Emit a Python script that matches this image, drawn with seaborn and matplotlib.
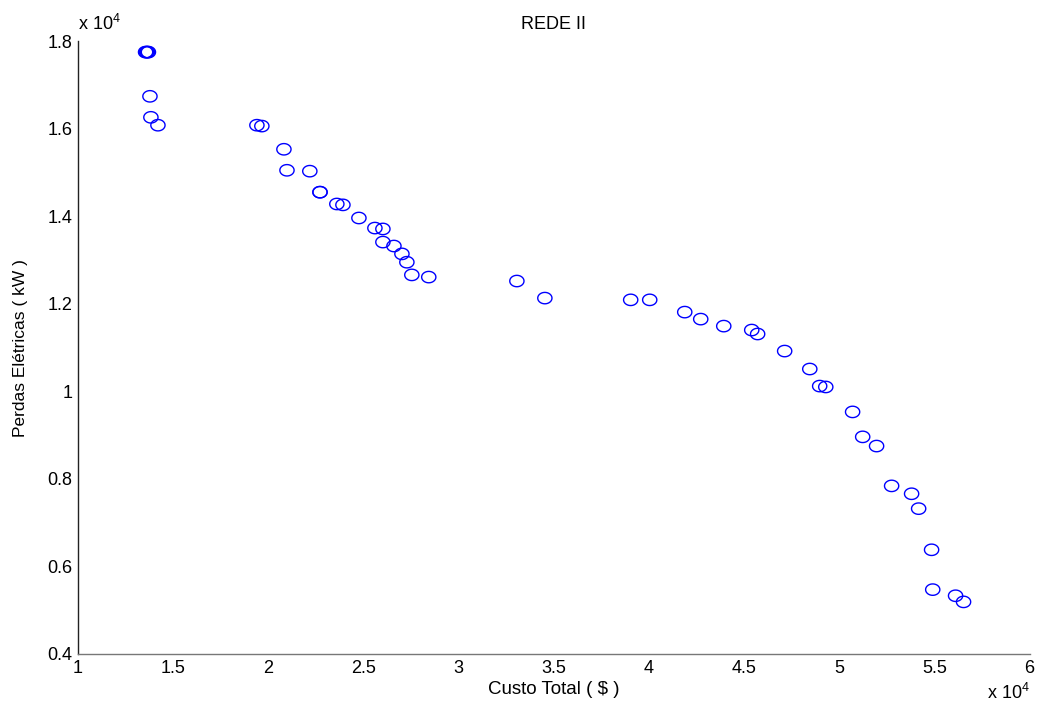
import matplotlib
matplotlib.use("Agg")
import matplotlib.pyplot as plt
import seaborn as sns
import numpy as np
import pandas as pd
from matplotlib.path import Path
from matplotlib.ticker import FuncFormatter

# Data (units of 10^4)
custo_total = [1.355, 1.360, 1.365, 1.370, 1.378, 1.383, 1.420, 1.940, 1.966,
               2.082, 2.098, 2.218, 2.271, 2.272, 2.360, 2.392, 2.476, 2.560,
               2.602, 2.602, 2.660, 2.702, 2.728, 2.754, 2.843, 3.306, 3.453,
               3.904, 4.004, 4.188, 4.272, 4.393, 4.540, 4.571, 4.713, 4.845,
               4.897, 4.929, 5.070, 5.123, 5.196, 5.275, 5.380, 5.417, 5.485,
               5.491, 5.611, 5.653]
perdas = [1.775, 1.775, 1.775, 1.775, 1.674, 1.626, 1.608, 1.608, 1.606,
          1.553, 1.505, 1.503, 1.455, 1.455, 1.428, 1.426, 1.396, 1.373,
          1.371, 1.341, 1.332, 1.314, 1.295, 1.266, 1.261, 1.252, 1.213,
          1.209, 1.209, 1.181, 1.165, 1.149, 1.140, 1.131, 1.092, 1.051,
          1.012, 1.010, 0.953, 0.896, 0.875, 0.784, 0.766, 0.732, 0.638,
          0.547, 0.533, 0.519]
x_ticks = [1, 1.5, 2, 2.5, 3, 3.5, 4, 4.5, 5, 5.5, 6]
y_ticks = [0.4, 0.6, 0.8, 1.0, 1.2, 1.4, 1.6, 1.8]

df = pd.DataFrame({"Custo": custo_total, "Perdas": perdas})

sns.set_theme(style="white")
plt.rcParams["font.family"] = ["Liberation Sans", "DejaVu Sans"]
plt.rcParams["mathtext.fontset"] = "custom"
plt.rcParams["mathtext.rm"] = "Liberation Sans"
plt.rcParams["text.color"] = "black"
plt.rcParams["axes.labelcolor"] = "black"

fig = plt.figure(figsize=(10.4, 7.06), dpi=100)
ax = fig.add_axes([0.075, 0.0737, 0.915, 0.868])

theta = np.linspace(0, 2 * np.pi, 60)
ellipse = Path(np.column_stack([np.cos(theta), 0.8 * np.sin(theta)]), closed=True)

sns.scatterplot(data=df, x="Custo", y="Perdas", ax=ax, marker=ellipse, s=105,
                facecolors="none", edgecolor="#0000ff", linewidth=1.0, legend=False)

ax.set_xlim(1, 6)
ax.set_ylim(0.4, 1.8)
ax.set_xticks(x_ticks)
ax.set_yticks(y_ticks)
fmt = FuncFormatter(lambda v, p: f"{v:g}")
ax.xaxis.set_major_formatter(fmt)
ax.yaxis.set_major_formatter(fmt)
ax.tick_params(direction="in", length=5, width=0.8, labelsize=13, colors="black",
               pad=4)
for s in ["top", "right"]:
    ax.spines[s].set_visible(False)
ax.spines["left"].set_color("#222222")
ax.spines["bottom"].set_color("#777777")
ax.spines["left"].set_linewidth(1.0)
ax.spines["bottom"].set_linewidth(1.0)

ax.set_xlabel("Custo Total ( $ )", fontsize=13.5, labelpad=3, color="black")
ax.set_ylabel("Perdas Elétricas ( kW )", fontsize=12.5, labelpad=14, color="black")
ax.set_title("REDE II", fontsize=13, pad=9, color="black")

ax.text(0.0, 1.012, r"x 10$^{4}$", transform=ax.transAxes, fontsize=13,
        ha="left", va="bottom", color="black")
ax.text(1.0, -0.074, r"x 10$^{4}$", transform=ax.transAxes, fontsize=13,
        ha="right", va="baseline", color="black")

fig.savefig("out.png", dpi=100, facecolor="white")
